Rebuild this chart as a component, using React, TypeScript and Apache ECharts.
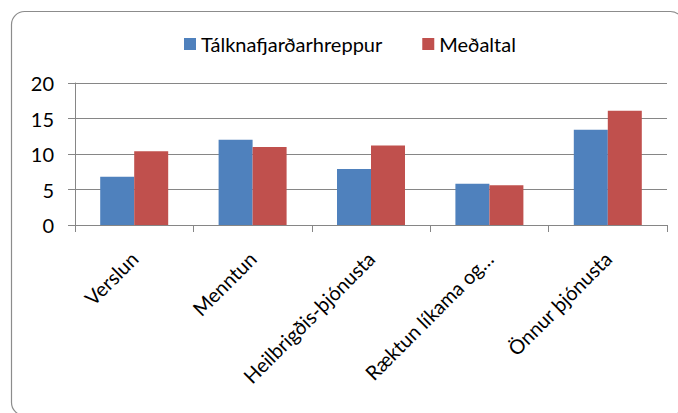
import React, { useEffect, useRef } from "react";
import * as echarts from "echarts";

const categories = ["Verslun", "Menntun", "Heilbrigðis-þjónusta", "Ræktun líkama og…", "Önnur þjónusta"];
const seriesNames = ["Tálknafjarðarhreppur", "Meðaltal"];
const localValues = [6.8, 12.0, 7.9, 5.8, 13.4];
const averageValues = [10.4, 11.0, 11.2, 5.6, 16.1];
const colors = ["#4F81BD", "#C0504D"];

export default function App() {
  const ref = useRef<HTMLDivElement>(null);
  useEffect(() => {
    if (!ref.current) return;
    const chart = echarts.init(ref.current, null, { renderer: "svg" });
    const font = "Lato";
    chart.setOption({
      animation: false,
      backgroundColor: "#ffffff",
      textStyle: { fontFamily: font },
      graphic: [
        {
          type: "rect",
          shape: { x: 11.5, y: 11.5, width: 672, height: 404, r: 13 },
          style: { fill: "none", stroke: "#8c8c8c", lineWidth: 1.2 },
          silent: true,
        },
      ],
      legend: {
        top: 29,
        left: 179,
        itemWidth: 12,
        itemHeight: 12,
        itemGap: 40,
        icon: "rect",
        textStyle: { fontFamily: font, fontSize: 20, color: "#000" },
        data: seriesNames,
      },
      grid: { left: 75, right: 11, top: 83, bottom: 188, containLabel: false },
      xAxis: {
        type: "category",
        data: categories,
        axisLine: { lineStyle: { color: "#868686" } },
        axisTick: { show: true, length: 7, lineStyle: { color: "#868686" } },
        axisLabel: { rotate: 45, fontSize: 20, color: "#000", fontFamily: font, margin: 30 },
      },
      yAxis: {
        type: "value",
        min: 0,
        max: 20,
        interval: 5,
        axisLine: { show: true, lineStyle: { color: "#868686" } },
        axisTick: { show: true, length: 7, lineStyle: { color: "#868686" } },
        splitLine: { lineStyle: { color: "#868686" } },
        axisLabel: { fontSize: 20, color: "#000", fontFamily: font, margin: 21 },
      },
      series: [
        {
          name: seriesNames[0],
          type: "bar",
          data: localValues,
          barWidth: 34,
          barGap: "0%",
          itemStyle: { color: colors[0] },
        },
        {
          name: seriesNames[1],
          type: "bar",
          data: averageValues,
          barWidth: 34,
          barGap: "0%",
          itemStyle: { color: colors[1] },
        },
      ],
    });
    return () => chart.dispose();
  }, []);
  return (
    <div
      ref={ref}
      style={{ position: "fixed", left: 0, top: 0, width: 678, height: 413 }}
    />
  );
}
